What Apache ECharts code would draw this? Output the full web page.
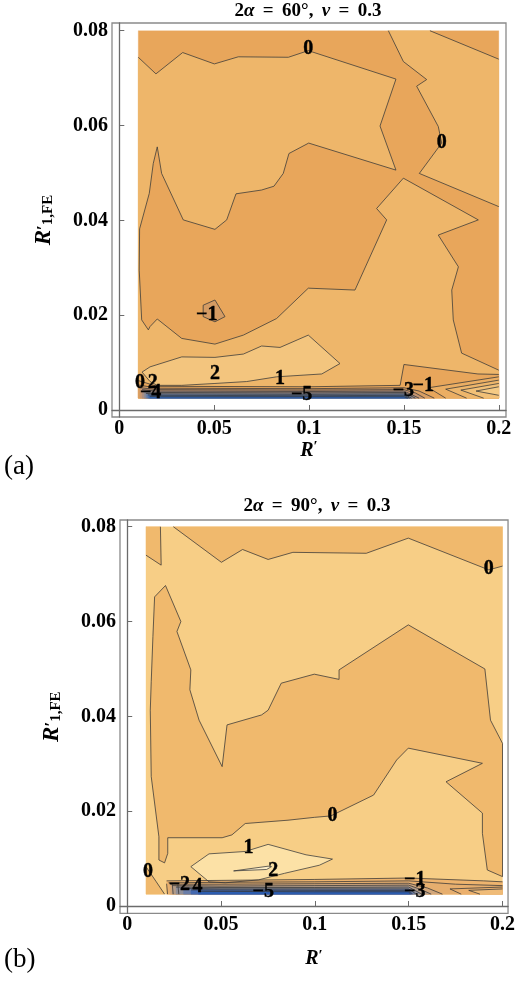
<!DOCTYPE html>
<html><head><meta charset="utf-8">
<script src="https://cdn.jsdelivr.net/npm/echarts@6/dist/echarts.min.js"></script>
<style>html,body{margin:0;padding:0;background:#fff}#c{width:518px;height:982px}</style>
</head><body><div id="c"></div>
<script>
// ---------- shared ----------
const xTicks = [0, 0.05, 0.1, 0.15, 0.2];
const yTicks = [0, 0.02, 0.04, 0.06, 0.08];
const dataBox = [[0.01, 0.0025], [0.2, 0.0025], [0.2, 0.08], [0.01, 0.08]];

// ---------- panel (a): 2α = 60° ----------
const A_zero = [[0.0100,0.0744],[0.0193,0.0709],[0.0334,0.0754],[0.0501,0.0730],[0.0627,0.0745],[0.0891,0.0744],[0.0996,0.0758],[0.1458,0.0698],[0.1374,0.0599],[0.1458,0.0506],[0.0998,0.0563],[0.0894,0.0541],[0.0864,0.0499],[0.0815,0.0472],[0.0750,0.0464],[0.0615,0.0456],[0.0566,0.0401],[0.0504,0.0381],[0.0337,0.0401],[0.0223,0.0499],[0.0200,0.0555],[0.0179,0.0520],[0.0158,0.0457],[0.0107,0.0382],[0.0105,0.0295],[0.0118,0.0190],[0.0153,0.0169],[0.0162,0.0176],[0.0200,0.0192],[0.0329,0.0151],[0.0504,0.0139],[0.0654,0.0158],[0.0829,0.0193],[0.0996,0.0257],[0.1242,0.0253],[0.1409,0.0401],[0.1356,0.0425],[0.1497,0.0489],[0.1892,0.0401],[0.1681,0.0369],[0.1787,0.0302],[0.1752,0.0253],[0.1760,0.0190],[0.1804,0.0120],[0.2000,0.0084]];
const A_zeroB = [[0.1418,0.08],[0.1497,0.0735],[0.1620,0.0697],[0.1567,0.0683],[0.1681,0.0598],[0.1699,0.0563],[0.1581,0.0499],[0.2,0.0429]];
const A_zeroC = [[0.1637,0.08],[0.2,0.0740]];
const A_minus1 = [[0.0442,0.0221],[0.0504,0.0232],[0.0557,0.0197],[0.0504,0.0186],[0.0442,0.0197]];
const A_one = [[0.0120,0.0080],[0.0162,0.0091],[0.0329,0.0112],[0.0504,0.0111],[0.0654,0.0118],[0.0750,0.0135],[0.0847,0.0132],[0.0996,0.0158],[0.1163,0.0098],[0.1067,0.0076],[0.0829,0.0070],[0.0671,0.0060],[0.0504,0.0056],[0.0329,0.0052],[0.0200,0.0052],[0.0162,0.0060]];
// steep band near the lower edge (levels 0, -1, ..., -7)
const A_band = [
  [[0.010,0.0062],[0.020,0.0050],[0.100,0.0049],[0.148,0.0052],[0.150,0.0096],[0.189,0.0076],[0.200,0.0075]],
  [[0.010,0.0053],[0.020,0.0046],[0.100,0.0045],[0.150,0.0047],[0.158,0.0040],[0.166,0.0025]],
  [[0.011,0.0047],[0.020,0.0043],[0.100,0.0042],[0.150,0.0043],[0.156,0.0036],[0.161,0.0025]],
  [[0.012,0.0043],[0.020,0.0040],[0.100,0.0039],[0.150,0.0040],[0.158,0.0025]],
  [[0.013,0.0039],[0.020,0.0037],[0.100,0.0036],[0.150,0.0037],[0.156,0.0025]],
  [[0.014,0.0035],[0.020,0.0034],[0.100,0.0033],[0.150,0.0034],[0.154,0.0025]],
  [[0.015,0.0032],[0.020,0.0031],[0.100,0.0030],[0.150,0.0031],[0.153,0.0025]],
  [[0.016,0.0029],[0.020,0.0028],[0.100,0.0028],[0.150,0.0028],[0.152,0.0025]]
];
// nested chevrons at the lower right edge (rising levels)
const A_fan = [
  [[0.2,0.0070],[0.163,0.0047],[0.172,0.0025]],
  [[0.2,0.0063],[0.172,0.0044],[0.183,0.0025]],
  [[0.2,0.0056],[0.180,0.0042],[0.192,0.0025]],
  [[0.2,0.0049],[0.188,0.0040],[0.2,0.0031]]
];
const A_labels = [
  [0.0996,0.0761,'0'],[0.1699,0.0563,'0'],[0.0461,0.0200,'\u22121'],[0.0504,0.0077,'2'],
  [0.0847,0.0065,'1'],[0.0109,0.0057,'0'],[0.0176,0.0058,'2'],[0.0165,0.0036,'\u22124'],
  [0.0961,0.0032,'\u22125'],[0.1497,0.0041,'\u22123'],[0.1602,0.0051,'\u22121']
];

// ---------- panel (b): 2α = 90° ----------
const B_topStrip = [[0.0246,0.08],[0.0502,0.0725],[0.0615,0.0752],[0.0751,0.0731],[0.0883,0.0746],[0.1274,0.0744],[0.1498,0.0776],[0.1927,0.0709],[0.2,0.0717]];
const B_corner = [[0.01,0.0740],[0.0181,0.0719],[0.0177,0.08]];
const B_mid = [[0.0204,0.0676],[0.0286,0.0600],[0.0265,0.0579],[0.0339,0.0498],[0.0334,0.0456],[0.0383,0.0392],[0.0506,0.0294],[0.0532,0.0382],[0.0716,0.0403],[0.0751,0.0413],[0.0821,0.0470],[0.0997,0.0489],[0.1129,0.0478],[0.1129,0.0498],[0.1498,0.0593],[0.1906,0.0500],[0.1936,0.0392],[0.2,0.0343],
  [0.2,0.0062],[0.1919,0.0076],[0.1893,0.0153],[0.1893,0.0196],[0.1699,0.0262],[0.1893,0.0301],[0.1498,0.0333],[0.1436,0.0308],[0.1313,0.0234],[0.1085,0.0190],[0.0997,0.0187],[0.0857,0.0181],[0.0629,0.0174],[0.0558,0.0150],[0.0506,0.0144],[0.0216,0.0144],[0.0216,0.0111],[0.0199,0.0091],[0.0169,0.0097],[0.0169,0.0146],[0.0128,0.0273],[0.0123,0.0413],[0.0128,0.0473],[0.0137,0.0568],[0.0146,0.0652]];
const B_one = [[0.0339,0.0083],[0.0436,0.0110],[0.0629,0.0115],[0.0751,0.0130],[0.0953,0.0108],[0.1094,0.0099],[0.1024,0.0086],[0.0839,0.0069],[0.0699,0.0055],[0.0523,0.0049],[0.0436,0.0051]];
const B_two = [[0.0567,0.0074],[0.0751,0.0084],[0.0769,0.0083],[0.0743,0.0077]];
const B_cornerLow = [[0.01,0.0083],[0.0155,0.0051],[0.0199,0.0025]];
const B_band = [
  [[0.021,0.0053],[0.050,0.0054],[0.100,0.0056],[0.150,0.0059],[0.190,0.0053],[0.200,0.0051]],
  [[0.022,0.0049],[0.050,0.0050],[0.100,0.0051],[0.150,0.0053],[0.175,0.0046],[0.200,0.0043]],
  [[0.023,0.0046],[0.050,0.0046],[0.100,0.0047],[0.150,0.0048],[0.160,0.0038],[0.168,0.0025]],
  [[0.024,0.0043],[0.050,0.0042],[0.100,0.0043],[0.150,0.0044],[0.157,0.0034],[0.162,0.0025]],
  [[0.026,0.0040],[0.050,0.0039],[0.100,0.0039],[0.150,0.0040],[0.157,0.0025]],
  [[0.030,0.0037],[0.050,0.0036],[0.100,0.0036],[0.150,0.0036],[0.154,0.0025]],
  [[0.034,0.0034],[0.100,0.0033],[0.150,0.0033],[0.152,0.0025]],
  [[0.038,0.0031],[0.100,0.0030],[0.150,0.0030],[0.151,0.0025]]
];
const B_fan = [
  [[0.2,0.0040],[0.172,0.0036],[0.178,0.0025]],
  [[0.2,0.0036],[0.182,0.0033],[0.188,0.0025]]
];
const B_left = [
  [[0.021,0.0047],[0.0215,0.0025]],[[0.024,0.0046],[0.0245,0.0025]],[[0.027,0.0045],[0.0275,0.0025]]
];
const B_labels = [
  [0.1927,0.0712,'0'],[0.1094,0.0190,'0'],[0.0646,0.0122,'1'],[0.0778,0.0074,'2'],
  [0.0111,0.0072,'0'],[0.0278,0.0044,'\u22122'],[0.0374,0.0041,'4'],[0.0725,0.0030,'\u22125'],
  [0.1532,0.0055,'\u22121'],[0.1532,0.0030,'\u22123']
];

// ---------- titles ----------
const titleA = [['2',0],['\u03b1',1],['=',0],['60\u00b0,',0],['\u03bd',1],['=',0],['0.3',0]];
const titleB = [['2',0],['\u03b1',1],['=',0],['90\u00b0,',0],['\u03bd',1],['=',0],['0.3',0]];

// ---------- styles ----------
const colA = {base:'#E8A65B', l0:'#EEB66A', l1:'#F3C57E', m1:'#D49B63',
  band:['#E8A65B','#D99E62','#C79670','#AB8F82','#8F8C93','#6D80A6','#4871AE','#2E62B0'],
  fan:['#EBAE63','#EEB66B','#F2C077','#F5CA84']};
const colB = {base:'#F7CE86', d:'#F0B96D', l1:'#FCE1A6', l2:'#FEEFC8',
  band:['#EEB46E','#E6AE6E','#D2A67A','#B39C88','#8F8E98','#6A7DA8','#4469B0','#2C5DB0'],
  fan:['#EBB06E','#EFBB78']};
const LINE = 'rgba(55,55,55,0.85)';
const FONT = 'Liberation Serif';

function poly(pts, fill){ return {kind:'poly', pts, fill}; }
function line(pts){ return {kind:'line', pts}; }
function closed(pts){ return {kind:'line', pts: pts.concat([pts[0]])}; }
function fillBelow(pts, fill){ return poly(pts.concat([[pts[pts.length-1][0],0.0025],[pts[0][0],0.0025]]), fill); }
function fillRight(pts, fill){ return poly(pts.concat([[0.2,0.0025]]), fill); }

const shapesA = [
  poly(dataBox, colA.base),
  poly(A_zero.concat([[0.2,0.0025],[0.01,0.0025]]), colA.l0),
  poly(A_zeroB.concat([[0.2,0.0740],[0.1637,0.08]]), colA.l0),
  poly(A_minus1, colA.m1),
  poly(A_one, colA.l1),
  ...A_band.map((b,i)=>fillBelow(b, colA.band[i])),
  ...A_fan.map((b,i)=>fillRight(b, colA.fan[i])),
  line(A_zero), line(A_zeroB), line(A_zeroC), closed(A_minus1), closed(A_one),
  ...A_band.map(line), ...A_fan.map(line),
  ...A_labels.map(l=>({kind:'text', pt:[l[0],l[1]], text:l[2]}))
];
const shapesB = [
  poly(dataBox, colB.base),
  poly(B_topStrip.concat([[0.2,0.08]]), colB.d),
  poly(B_corner.concat([[0.01,0.08]]), colB.d),
  poly(B_mid, colB.d),
  poly(B_cornerLow.concat([[0.01,0.0025]]), colB.d),
  poly(B_one, colB.l1),
  poly(B_two, colB.l2),
  ...B_band.map((b,i)=>fillBelow(b, colB.band[i])),
  ...B_fan.map((b,i)=>fillRight(b, colB.fan[i])),
  line(B_topStrip), line(B_corner), closed(B_mid), line(B_cornerLow), closed(B_one), closed(B_two),
  ...B_band.map(line), ...B_fan.map(line), ...B_left.map(line),
  ...B_labels.map(l=>({kind:'text', pt:[l[0],l[1]], text:l[2]}))
];

function contourSeries(idx, shapes){
  return {
    type:'custom', xAxisIndex:idx, yAxisIndex:idx, silent:true, animation:false, clip:true,
    data: shapes.map((s,i)=>[0.1,0.04,i]),
    encode:{x:0, y:1},
    renderItem(params, api){
      const s = shapes[params.dataIndex];
      if (s.kind === 'poly') return {type:'polygon', shape:{points:s.pts.map(p=>api.coord(p))}, style:{fill:s.fill, stroke:s.fill, lineWidth:0.3}};
      if (s.kind === 'line') return {type:'polyline', shape:{points:s.pts.map(p=>api.coord(p))}, style:{fill:null, stroke:LINE, lineWidth:0.9}};
      const c = api.coord(s.pt);
      return {type:'text', x:c[0], y:c[1], style:{text:s.text, fill:'#000', fontSize:20, fontWeight:'bold', fontFamily:FONT, align:'center', verticalAlign:'middle', stroke:'#000', lineWidth:0.4}};
    }
  };
}

const fmt = v => v === 0 ? '0' : String(parseFloat(v.toFixed(2)));
const nameRich = {
  r:{fontFamily:FONT, fontWeight:'bold', fontStyle:'italic', fontSize:23, color:'#000'},
  p:{fontFamily:FONT, fontWeight:'bold', fontSize:17, color:'#000'},
  s:{fontFamily:FONT, fontWeight:'bold', fontSize:15, color:'#000', padding:[9,0,0,0]}
};
function xAxis(idx, min, max, gap){
  return {gridIndex:idx, type:'value', min, max,
    name:'{r|R}{p|\u2032}', nameLocation:'middle', nameGap:gap,
    nameTextStyle:{rich:{r:{fontFamily:FONT, fontWeight:'bold', fontStyle:'italic', fontSize:20, color:'#000'},
                         p:{fontFamily:FONT, fontWeight:'bold', fontSize:15, color:'#000', padding:[0,0,6,0]}}},
    axisLine:{show:true, lineStyle:{color:'#6b6b6b', width:1.3}},
    axisTick:{show:true, inside:true, length:5, customValues:xTicks, lineStyle:{color:'#6b6b6b'}},
    axisLabel:{customValues:xTicks, formatter:fmt, color:'#000', fontFamily:FONT, fontWeight:'bold', fontSize:20, margin:2},
    splitLine:{show:false}};
}
function yAxis(idx, min, max){
  return {gridIndex:idx, type:'value', min, max,
    name:'{r|R}{p|\u2032}{s|1,FE}', nameLocation:'middle', nameRotate:90, nameGap:56,
    nameTextStyle:{rich:nameRich},
    axisLine:{show:true, lineStyle:{color:'#6b6b6b', width:1.3}},
    axisTick:{show:true, inside:true, length:5, customValues:yTicks, lineStyle:{color:'#6b6b6b'}},
    axisLabel:{customValues:yTicks, formatter:fmt, color:'#000', fontFamily:FONT, fontWeight:'bold', fontSize:20, margin:4},
    splitLine:{show:false}};
}

// title built from measured text pieces (upright bold + italic greek letters)
const measureCtx = document.createElement('canvas').getContext('2d');
function fontOf(it){ return (it ? 'italic ' : '') + 'bold 19px "' + FONT + '"'; }
function titleGraphics(tokens, cx, cy, totalWidth){
  const widths = tokens.map(t => { measureCtx.font = fontOf(t[1]); return measureCtx.measureText(t[0]).width; });
  const sum = widths.reduce((a,b)=>a+b, 0);
  const gap = Math.max(3, (totalWidth - sum) / (tokens.length - 2));
  let x = cx - (sum + gap * (tokens.length - 2)) / 2;
  return tokens.map((t, i) => {
    const el = {type:'text', x, y:cy, style:{text:t[0], fontFamily:FONT, fontWeight:'bold', fontStyle:t[1] ? 'italic' : 'normal', fontSize:19, fill:'#000', align:'left', verticalAlign:'middle'}};
    x += widths[i] + (i === 0 ? 0 : gap);
    return el;
  });
}
function panelLabel(x, y, t){
  return {type:'text', x, y, style:{text:t, fontFamily:FONT, fontSize:27, fill:'#000', align:'left', verticalAlign:'middle'}};
}

const chart = echarts.init(document.getElementById('c'), null, {renderer:'canvas'});
chart.setOption({
  backgroundColor:'#fff', animation:false,
  grid:[
    {left:112, top:23, width:394, height:394, show:true, borderColor:'#8a8a8a', borderWidth:1.3, backgroundColor:'transparent'},
    {left:120, top:520, width:392.7, height:393.3, show:true, borderColor:'#8a8a8a', borderWidth:1.3, backgroundColor:'transparent'}
  ],
  xAxis:[xAxis(0,-0.00385,0.20379,21), xAxis(1,-0.00384,0.20295,35)],
  yAxis:[yAxis(0,-0.001476,0.08163), yAxis(1,-0.00154,0.08142)],
  series:[contourSeries(0, shapesA), contourSeries(1, shapesB)],
  graphic:[
    ...titleGraphics(titleA, 308, 11, 147),
    ...titleGraphics(titleB, 317, 506, 147),
    panelLabel(4, 467, '(a)'), panelLabel(4, 960, '(b)')
  ]
});
</script></body></html>
